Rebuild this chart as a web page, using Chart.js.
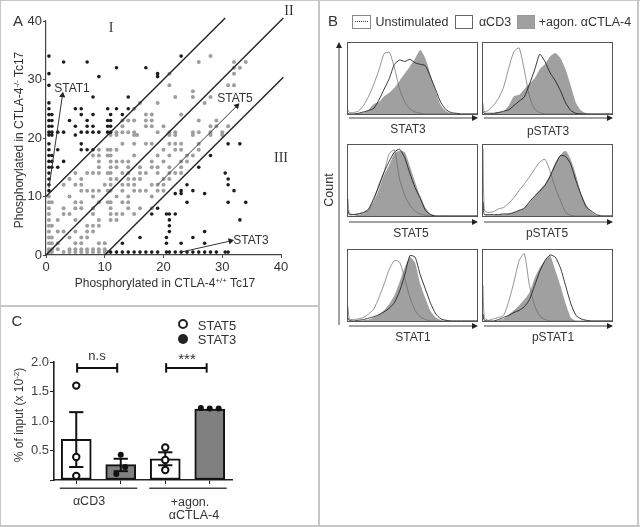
<!DOCTYPE html>
<html><head><meta charset="utf-8">
<script src="https://cdn.jsdelivr.net/npm/chart.js@4"></script>
<style>
html,body{margin:0;padding:0;background:#fff}
#root{position:relative;width:640px;height:527px;overflow:hidden;font-family:"Liberation Sans",Arial,sans-serif;color:#333}
canvas{position:absolute;display:block}
.t{position:absolute;white-space:nowrap;line-height:1;transform:translate(-50%,-50%)}
.r{transform:translate(-50%,-50%) rotate(-90deg)}
.s{font-family:"Liberation Serif",serif}
sup{font-size:.65em;line-height:0;vertical-align:.5em}
.b{position:absolute;background:#c6c6c6}
.frame{position:absolute;border:1px solid #555;box-sizing:content-box}
.sw{position:absolute;box-sizing:border-box;border:1px solid #777;background:#fff}
.dot{position:absolute;box-sizing:border-box;border-radius:50%}
svg{position:absolute;left:0;top:0}
</style></head><body><div id="root">
<div class="b" style="left:0;top:0;width:640px;height:1px"></div>
<div class="b" style="left:0;top:0;width:1px;height:527px"></div>
<div class="b" style="left:318px;top:0;width:2px;height:527px"></div>
<div class="b" style="left:0;top:305px;width:319px;height:2px"></div>
<div class="b" style="left:0;top:525px;width:640px;height:2px"></div>
<div class="b" style="left:637px;top:0;width:2px;height:527px"></div>
<canvas id="cA" width="319" height="305" style="left:0;top:0;width:319px;height:305px"></canvas>
<canvas id="cC" width="260" height="160" style="left:0;top:345px;width:260px;height:160px"></canvas>
<svg width="640" height="527" id="arrows"></svg>
</div>
<script>
// ---------- Panel A ----------
const axisTicksA=[0,10,20,30,40];
const blackPoints=[[.5,34],[3,33],[7,33],[12,32],[17,32],[19,31],[19,30.5],[23,34],[.5,31],[9,30.5],[.5,29],[8,27],[14,27],[.5,26],[.5,25],[5,25],[6,25],[10.5,25],[12,25],[14,25],[.5,24],[1,24],[6,24],[8,24],[11,24],[13,24],[.5,23],[1,23],[4,23],[7,23],[10.5,23],[11,23],[.5,22],[1,22],[5,22],[7,22],[8,22],[10.5,22],[11,22],[.5,21],[1,21],[2,21],[3,21],[6,21],[7,21],[8,21],[9,21],[10.5,21],[11,21],[.5,20.5],[1,20.5],[5,20.5],[.5,19],[6,19],[.5,18],[2,18],[6,18],[7,18],[8,18],[.5,17],[1,17],[.5,16],[1,16],[3,16],[.5,15],[1,15],[2,15],[.5,14],[.5,13],[.5,12],[.5,11],[31,19],[33,19],[28,17],[26,15],[30.5,14],[31,13],[31,12],[32,11],[24,12],[25,11],[27,10.5],[23,11],[23,10.5],[22,10.5],[24,9],[31,9],[34,9],[19,8],[18,7],[20.5,7],[21,7],[22,7],[21,6],[33,6],[21,5],[21,4],[27,4],[20.5,3],[16,3],[25,3],[13,2],[20.5,2],[23,2],[27,2],[11,.5],[12,.5],[13,.5],[14,.5],[15,.5],[16,.5],[17,.5],[18,.5],[19,.5],[20.5,.5],[21,.5],[22,.5],[23,.5],[24,.5],[25,.5],[26,.5],[27,.5],[28,.5],[29,.5],[30.5,.5],[31,.5]];
const grayRows=[[34,[28]],[33,[26,32,34]],[32,[32,33]],[31,[21,32]],[29,[21,31,32]],[28,[25]],[27,[22,25,28]],[26,[16,19,27]],[25,[15]],[24,[17,18,23]],[23,[13,14,15,17,18,26,29]],[22,[13,17,18,20,28,29,31]],[21,[12,13,14,15,19,21,22,25,26,28,30]],[20.5,[11,12,15,15.5,21,22,25,28,30]],[19,[13,15,17,18,21,22,23,26]],[18,[9,10.5,11,12,20,22,23,26]],[17,[8,9,10.5,11,15,19,21,24,25]],[16,[9,11,12,13,14,18,20,23,24]],[15,[9,11,12,14,16,18,19,21,23]],[14,[5,7,8,9,10.5,11,13,14,16,17,19,21,22,23]],[13,[4,6,11,12,14,15,16,20,21]],[12,[3,5,6,10,11,13,14,15,18,19,20]],[11,[6,7,8,9,10.5,11,13,15,16,17,19,20]],[10,[.5,4,8,12,14,18]],[9,[.5,1,5,6,9,10.5,11,13,14]],[8,[.5,3,5,6,8,11,14,16,18]],[7,[.5,3,4,8,11,12,13,15]],[6,[.5,2,5,9,11,12]],[5,[.5,1,7,8,9]],[4,[.5,2,3,5,7,8]],[3,[.5,1,4,6,7]],[2,[.5,1,2,5,6,9,10]],[1,[.5,1,2,4,5,6,7,8,9,10]],[.5,[.5,1,3,4,5,6,7,8,9,10,10.5]]];
const diagonalLines=[[[0,10],[30.5,40.5]],[[0,0],[40.4,40.5]],[[10,0],[40.4,30.4]]];
const arrowLines=[{from:[.5,11.5],to:[2.8,27.3],angle:8},{from:[19,12],to:[32.5,25.5],angle:45},{from:[23,.5],to:[31.4,2.4],angle:76}];

// ---------- Panel C ----------
const barX=[0,1,2,3];
const barMeans=[.69,.26,.36,1.2];
const barColors=['#ffffff','#808080','#ffffff','#808080'];
const errHigh=[1.15,.36,.47];
const errLow=[.22,.15,.25];
const stat5Points=[[0,1.6],[0,.39],[0,.07],[2,.55],[2,.34],[2,.17]];
const stat3Points=[[1,.43],[1.1,.22],[.9,.1],[2.8,1.22],[3,1.21],[3.2,1.21]];
const brackets=[[.02,.92],[2.02,2.93]];
const groupLines=[[-.37,1.37],[1.64,3.38]];
const ticksC=[0,.5,1,1.5,2];

// ---------- Panel B ----------
const xGrid=[0,1,4,8,12,16,20,24,28,32,36,40,44,48,52,56,60,64,68,72,76,80,84,88,92,96,100];
const stat3Un=[6,2,2,4,12,25,42,62,85,87,65,35,17,7,3,1,0,0,0,0,0,0,0,0,0,0,0];
const stat3Cd=[1,0,0,1,3,5,8,20,35,50,70,76,74,77,72,70,68,52,34,16,6,2,1,0,0,0,0];
const stat3Ag=[0,0,0,1,2,6,14,17,25,30,37,47,57,67,78,90,78,55,32,12,4,1,0,0,0,0,0];
const pstat3Un=[15,3,5,12,22,38,65,88,93,62,25,7,2,0,0,0,0,0,0,0,0,0,0,0,0,0,0];
const pstat3Cd=[4,1,1,1,2,4,6,12,18,24,42,62,84,74,58,47,33,16,5,1,0,0,0,0,0,0,0];
const pstat3Ag=[0,0,0,1,3,4,12,25,27,35,43,50,63,70,81,86,79,63,40,16,5,1,0,0,0,0,0];
const stat5Un=[24,4,2,3,5,8,22,45,62,88,93,52,29,15,7,3,1,0,0,0,0,0,0,0,0,0,0];
const stat5Cd=[8,2,2,3,5,10,25,42,62,77,90,94,82,60,40,25,8,2,0,0,0,0,0,0,0,0,0];
const stat5Ag=[0,0,0,2,4,9,20,38,58,72,88,92,90,70,48,28,12,3,0,0,0,0,0,0,0,0,0];
const pstat5Un=[95,8,5,6,10,12,18,26,36,45,55,66,76,80,63,40,22,5,1,0,0,0,0,0,0,0,0];
const pstat5Cd=[20,2,2,2,2,3,3,5,8,11,20,28,35,43,56,72,85,84,73,50,30,13,7,2,0,0,0];
const pstat5Ag=[0,0,1,1,2,2,3,5,8,11,19,28,37,45,58,75,86,92,80,58,32,16,6,1,0,0,0];
const stat1Un=[20,3,2,3,5,10,17,33,52,73,85,83,60,33,15,6,2,0,0,0,0,0,0,0,0,0,0];
const stat1Cd=[4,1,0,1,2,4,6,9,13,18,26,42,65,92,90,65,45,25,10,3,1,0,0,0,0,0,0];
const stat1Ag=[0,0,0,0,1,2,5,9,15,24,36,55,75,90,82,52,32,14,5,1,0,0,0,0,0,0,0];
const pstat1Un=[50,5,1,3,5,8,28,55,85,95,50,22,7,2,0,0,0,0,0,0,0,0,0,0,0,0,0];
const pstat1Cd=[10,1,0,0,2,5,8,12,15,20,30,50,70,85,93,90,75,50,25,8,3,1,0,0,0,0,0];
const pstat1Ag=[0,0,0,0,1,3,9,15,22,30,40,60,75,85,92,72,50,25,5,0,0,0,0,0,0,0,0];
const histPanels=[
 {name:'STAT3',un:stat3Un,cd:stat3Cd,ag:stat3Ag,l:347,t:42,lx:408,ly:129,ay:118},
 {name:'pSTAT3',un:pstat3Un,cd:pstat3Cd,ag:pstat3Ag,l:482,t:42,lx:548,ly:131,ay:118},
 {name:'STAT5',un:stat5Un,cd:stat5Cd,ag:stat5Ag,l:347,t:144,lx:411,ly:233,ay:222},
 {name:'pSTAT5',un:pstat5Un,cd:pstat5Cd,ag:pstat5Ag,l:482,t:144,lx:547,ly:233,ay:222},
 {name:'STAT1',un:stat1Un,cd:stat1Cd,ag:stat1Ag,l:347,t:249,lx:413,ly:337,ay:326},
 {name:'pSTAT1',un:pstat1Un,cd:pstat1Cd,ag:pstat1Ag,l:482,t:249,lx:553,ly:337,ay:326}
];

const root=document.getElementById('root');
Chart.defaults.font.family='"Liberation Sans",Arial,sans-serif';
Chart.defaults.animation=false;
function text(html,x,y,size,extra){
  const d=document.createElement('div');d.className='t '+(extra||'');
  d.style.left=x+'px';d.style.top=y+'px';d.style.fontSize=size+'px';d.innerHTML=html;root.appendChild(d);return d;
}

// Panel A chart
const grayPoints=grayRows.flatMap(r=>r[1].map(x=>({x,y:r[0]})));
const aSets=[
 {type:'scatter',data:grayPoints,backgroundColor:'#9e9e9e',borderWidth:0,pointRadius:2,clip:false,order:4},
 {type:'scatter',data:blackPoints.map(p=>({x:p[0],y:p[1]})),backgroundColor:'#1c1c1c',borderWidth:0,pointRadius:1.8,clip:false,order:3}
];
diagonalLines.forEach(l=>aSets.push({type:'line',data:l.map(p=>({x:p[0],y:p[1]})),borderColor:'#222',borderWidth:1.4,pointRadius:0,clip:false,order:2}));
arrowLines.forEach(a=>aSets.push({type:'line',data:[{x:a.from[0],y:a.from[1]},{x:a.to[0],y:a.to[1]}],borderColor:'#333',borderWidth:1,
  pointStyle:'triangle',pointRadius:[0,3.6],pointRotation:[0,a.angle],pointBackgroundColor:'#222',pointBorderWidth:0,clip:false,order:1}));
new Chart('cA',{data:{datasets:aSets},options:{responsive:false,maintainAspectRatio:false,
 layout:{padding:{top:21,right:38,left:0,bottom:0}},
 plugins:{legend:{display:false},tooltip:{enabled:false}},
 scales:{
  x:{type:'linear',min:0,max:40,afterFit:s=>{s.height=50},afterBuildTicks:s=>{s.ticks=axisTicksA.map(v=>({value:v}))},
     grid:{display:true,drawOnChartArea:false,tickLength:3,tickColor:'#444'},border:{color:'#444',width:1.2},
     ticks:{font:{size:13},color:'#333',padding:2,maxRotation:0,autoSkip:false}},
  y:{type:'linear',min:0,max:40,afterFit:s=>{s.width=46},afterBuildTicks:s=>{s.ticks=axisTicksA.map(v=>({value:v}))},
     grid:{display:true,drawOnChartArea:false,tickLength:3,tickColor:'#444'},border:{color:'#444',width:1.2},
     ticks:{font:{size:13},color:'#333',padding:1}}
 }}});

text('A',18,20,15);
text('I',111,28,14,'s');text('II',289,11,14,'s');text('III',281,158,14,'s');
text('STAT1',72,88,12);text('STAT5',235,98,12);text('STAT3',251,240,12);
text('Phosphorylated in CTLA-4<sup>+/+</sup> Tc17',165,283,12);
text('Phosphorylated in CTLA-4<sup>-/-</sup> Tc17',19,140,12,'r');

// Panel C chart
const seg=(x1,y1,x2,y2,w,c)=>({type:'line',data:[{x:x1,y:y1},{x:x2,y:y2}],borderColor:c||'#111',borderWidth:w||2,pointRadius:0,clip:false,order:3});
const cSets=[{type:'bar',data:barX.map((x,i)=>({x,y:barMeans[i]})),backgroundColor:barColors,borderColor:'#111',borderWidth:2,borderSkipped:false,barThickness:30,order:5}];
errHigh.forEach((h,i)=>{const x=barX[i],l=errLow[i],c=.16;
 cSets.push(seg(x,l,x,h),seg(x-c,h,x+c,h),seg(x-c,l,x+c,l));});
brackets.forEach(b=>{cSets.push(seg(b[0],1.9,b[1],1.9),seg(b[0],1.82,b[0],1.98),seg(b[1],1.82,b[1],1.98));});
groupLines.forEach(g=>cSets.push(seg(g[0],-.14,g[1],-.14,1.4,'#444')));
cSets.push({type:'scatter',data:stat5Points.map(p=>({x:p[0],y:p[1]})),backgroundColor:'#fff',borderColor:'#111',borderWidth:2,pointRadius:3.2,clip:false,order:2});
cSets.push({type:'scatter',data:stat3Points.map(p=>({x:p[0],y:p[1]})),backgroundColor:'#111',borderColor:'#111',borderWidth:0,pointRadius:3,clip:false,order:1});
new Chart('cC',{data:{datasets:cSets},options:{responsive:false,maintainAspectRatio:false,
 layout:{padding:{top:17,right:28,left:0,bottom:0}},
 plugins:{legend:{display:false},tooltip:{enabled:false}},
 scales:{
  x:{type:'linear',offset:false,min:-.5,max:3.5,afterFit:s=>{s.height=25},afterBuildTicks:s=>{s.ticks=barX.map(v=>({value:v}))},
     grid:{display:true,offset:false,drawOnChartArea:false,tickLength:4,tickColor:'#222'},border:{color:'#222',width:1.6},
     ticks:{callback:()=>'',padding:0}},
  y:{type:'linear',min:0,max:2,afterFit:s=>{s.width=54},afterBuildTicks:s=>{s.ticks=ticksC.map(v=>({value:v}))},
     grid:{display:true,drawOnChartArea:false,tickLength:4,tickColor:'#222'},border:{color:'#222',width:1.6},
     ticks:{font:{size:13},color:'#444',padding:1,callback:v=>v===0?'':v.toFixed(1)}}
 }}});

text('C',17,320,15);
text('n.s',97,355,13);text('***',187,358,15);
text('% of input (x 10<sup>-2</sup>)',19,415,12,'r');
text('αCD3',89,501,12.5);text('+agon.',190,502,12.5);text('αCTLA-4',194,515,12.5);
text('STAT5',217,325,13);text('STAT3',217,339,13);
function dot(x,y,r,bg,bw){const d=document.createElement('div');d.className='dot';
 d.style.cssText+=`left:${x-r}px;top:${y-r}px;width:${2*r}px;height:${2*r}px;background:${bg};border:${bw}px solid #222`;root.appendChild(d);}
dot(183,324,5,'#fff',2);dot(183,339,5,'#222',0);

// Panel B legend
text('B',333,20,15);
function sw(l,t,w,h,bg,bc){const d=document.createElement('div');d.className='sw';
 d.style.cssText+=`left:${l}px;top:${t}px;width:${w}px;height:${h}px;background:${bg};border-color:${bc}`;root.appendChild(d);return d;}
const s1=sw(352,15,19,14,'#fff','#888');
const dl=document.createElement('div');dl.style.cssText='position:absolute;left:2px;right:2px;top:5px;border-top:1px dotted #444';s1.appendChild(dl);
sw(455,15,18,14,'#fff','#666');sw(517,15,18,14,'#a0a0a0','#999');
text('Unstimulated',412,22,12.5);text('αCD3',495,22,12.5);text('+agon. αCTLA-4',585,22,12.5);
text('Count',329,190,12.5,'r');

// Panel B histograms
const W=129,H=71;
histPanels.forEach((p,i)=>{
 const f=document.createElement('div');f.className='frame';
 f.style.cssText+=`left:${p.l}px;top:${p.t}px;width:${W}px;height:${H}px`;
 const c=document.createElement('canvas');c.width=W;c.height=H;c.style.cssText=`left:0;top:0;width:${W}px;height:${H}px`;
 f.appendChild(c);root.appendChild(f);
 const pts=a=>a.map((v,j)=>({x:xGrid[j],y:v}));
 new Chart(c,{type:'line',data:{datasets:[
  {data:pts(p.ag),borderWidth:0,backgroundColor:'#a0a0a0',fill:'origin',pointRadius:0,tension:.2,order:3},
  {data:pts(p.un),borderColor:'#666',borderWidth:.7,pointRadius:0,tension:.2,fill:false,order:2},
  {data:pts(p.cd),borderColor:'#222',borderWidth:.9,pointRadius:0,tension:.2,fill:false,order:1}
 ]},options:{responsive:false,maintainAspectRatio:false,layout:{padding:0},
  plugins:{legend:{display:false},tooltip:{enabled:false}},
  scales:{x:{type:'linear',min:0,max:100,display:false},y:{type:'linear',min:0,max:100,display:false}}}});
 text(p.name,p.lx,p.ly,12);
});
// Axis arrows
let a='';
histPanels.forEach(p=>{const x1=p.l+2,x2=p.l+131,y=p.ay;
 a+=`<line x1="${x1}" y1="${y}" x2="${x2-5}" y2="${y}" stroke="#444" stroke-width="1"/><polygon points="${x2},${y} ${x2-6},${y-3} ${x2-6},${y+3}" fill="#222"/>`;});
a+=`<line x1="339" y1="46" x2="339" y2="325" stroke="#444" stroke-width="1"/><polygon points="339,42 336,48 342,48" fill="#222"/>`;
document.getElementById('arrows').innerHTML=a;
</script></body></html>
